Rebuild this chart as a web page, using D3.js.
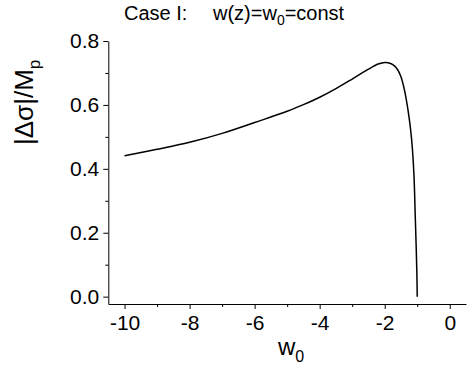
<!DOCTYPE html>
<html>
<head>
<meta charset="utf-8">
<script src="https://cdn.jsdelivr.net/npm/d3@7"></script>
<style>
  body { margin: 0; background: #fff; }
  svg { display: block; }
  text { font-family: "Liberation Sans", Arial, sans-serif; fill: #000; }
</style>
</head>
<body>
<svg id="chart" width="470" height="376"></svg>
<script>
// Data
const w0Values = [-10, -9, -8, -7, -6, -5, -4.5, -4, -3.5, -3, -2.5, -2.2, -2.0, -1.8, -1.7, -1.6, -1.5, -1.4, -1.3, -1.25, -1.2, -1.15, -1.1, -1.06, -1.03, -1.01, -1.0];
const sigmaValues = [0.441, 0.461, 0.483, 0.511, 0.545, 0.580, 0.601, 0.624, 0.651, 0.681, 0.712, 0.728, 0.733, 0.729, 0.722, 0.710, 0.688, 0.650, 0.595, 0.560, 0.520, 0.465, 0.380, 0.250, 0.150, 0.070, 0.0];
const xTicks = [-10, -8, -6, -4, -2, 0];
const xMinorTicks = [-9, -7, -5, -3, -1];
const yTicks = [0.0, 0.2, 0.4, 0.6, 0.8];
const yMinorTicks = [0.1, 0.3, 0.5, 0.7];

const svg = d3.select("#chart");
const x = d3.scaleLinear().domain([-10.5, 0.5]).range([108.3, 466]);
const y = d3.scaleLinear().domain([-0.023, 0.8]).range([304, 41]);

// minor ticks
svg.append("g").attr("transform", "translate(0,304)")
  .call(d3.axisBottom(x).tickValues(xMinorTicks).tickSize(3).tickFormat(""))
  .call(g => g.select(".domain").remove());
svg.append("g").attr("transform", "translate(108.3,0)")
  .call(d3.axisLeft(y).tickValues(yMinorTicks).tickSize(3).tickFormat(""))
  .call(g => g.select(".domain").remove());

// major axes
const xAxis = svg.append("g").attr("transform", "translate(0,304)")
  .call(d3.axisBottom(x).tickValues(xTicks).tickSize(5).tickSizeOuter(0).tickPadding(6).tickFormat(d3.format("d")));
const yAxis = svg.append("g").attr("transform", "translate(108.3,0)")
  .call(d3.axisLeft(y).tickValues(yTicks).tickSize(5).tickSizeOuter(0).tickPadding(4).tickFormat(d3.format(".1f")));
[xAxis, yAxis].forEach(g => {
  g.selectAll("text").style("font-size", "21px").style("font-family", "Liberation Sans, Arial, sans-serif").attr("fill", "#000");
  g.selectAll("line, path").attr("stroke", "#000").attr("stroke-width", 1);
});
xAxis.selectAll("text").text(d => d < 0 ? "-" + Math.abs(d) : d);

// curve
const pts = w0Values.map((w, i) => [w, sigmaValues[i]]);
svg.append("path")
  .datum(pts)
  .attr("fill", "none")
  .attr("stroke", "#000")
  .attr("stroke-width", 1.5)
  .attr("d", d3.line().x(d => x(d[0])).y(d => y(d[1])).curve(d3.curveCatmullRom.alpha(0.5)));

// title
svg.append("text").attr("x", 124).attr("y", 20).style("font-size", "20px").text("Case I:");
const t2 = svg.append("text").attr("x", 213).attr("y", 20).style("font-size", "20px");
t2.append("tspan").text("w(z)=w");
t2.append("tspan").attr("dy", 5).style("font-size", "14px").text("0");
t2.append("tspan").attr("dy", -5).text("=const");

// x label
const xl = svg.append("text").attr("x", 278).attr("y", 355).style("font-size", "24px");
xl.append("tspan").text("w");
xl.append("tspan").attr("dy", 7).style("font-size", "16px").text("0");

// y label
const yl = svg.append("text").attr("transform", "translate(33,145) rotate(-90)").style("font-size", "26px");
yl.append("tspan").text("|Δσ|/M");
yl.append("tspan").attr("dy", 7).style("font-size", "17px").text("p");
</script>
</body>
</html>
